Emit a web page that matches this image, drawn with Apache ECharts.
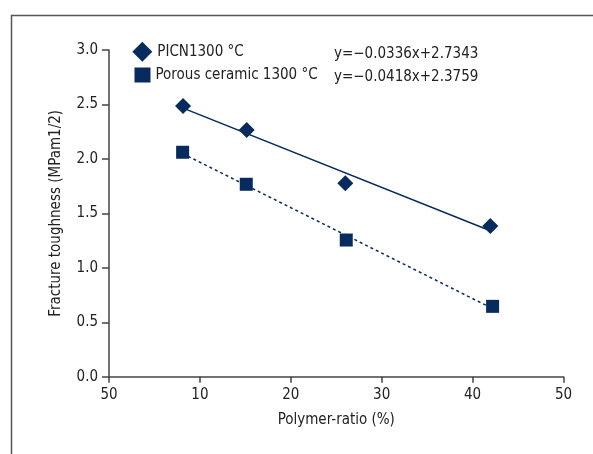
<!DOCTYPE html>
<html>
<head>
<meta charset="utf-8">
<script src="https://cdn.jsdelivr.net/npm/echarts@6/dist/echarts.min.js"></script>
<style>
html,body{margin:0;padding:0;background:#fff;}
#c{width:593px;height:454px;}
</style>
</head>
<body>
<div id="c"></div>
<script>
var seriesNames = ['PICN1300 °C', 'Porous ceramic 1300 °C'];
var xPICN = [8.15, 15.15, 26.0, 41.95];
var yPICN = [2.486, 2.265, 1.776, 1.384];
var xPorous = [8.1, 15.1, 26.1, 42.2];
var yPorous = [2.061, 1.767, 1.255, 0.646];
var equations = ['y=\u22120.0336x+2.7343', 'y=\u22120.0418x+2.3759'];
var xTickLabels = ['50', '10', '20', '30', '40', '50'];
var xName = 'Polymer-ratio (%)';
var yName = 'Fracture toughness (MPam1/2)';

var FONT = '"Liberation Sans Narrow", "DejaVu Sans Condensed", sans-serif';
var FS = 15;
var NAVY = '#062b5c';
var AXIS = '#444444';
var TXT = '#222222';

function pairs(xs, ys) { return xs.map(function (x, i) { return [x, ys[i]]; }); }
function fit(xs, ys) {
  var n = xs.length, mx = 0, my = 0, sxx = 0, sxy = 0;
  for (var i = 0; i < n; i++) { mx += xs[i]; my += ys[i]; }
  mx /= n; my /= n;
  for (var j = 0; j < n; j++) { sxx += (xs[j] - mx) * (xs[j] - mx); sxy += (xs[j] - mx) * (ys[j] - my); }
  var b = sxy / sxx, a = my - b * mx;
  var x0 = Math.min.apply(null, xs), x1 = Math.max.apply(null, xs);
  return [[x0, a + b * x0], [x1, a + b * x1]];
}

var chart = echarts.init(document.getElementById('c'), null, { renderer: 'canvas' });
chart.setOption({
  backgroundColor: '#ffffff',
  animation: false,
  textStyle: { fontFamily: FONT },
  grid: { left: 109, right: 29.5, top: 50, bottom: 77.3, containLabel: false },
  graphic: [
    { type: 'rect', left: 9, top: 13, silent: true,
      shape: { width: 620, height: 480 },
      style: { fill: 'none', stroke: '#555555', lineWidth: 1.5 } },
    { type: 'text', left: 334, top: 46.5, silent: true,
      style: { text: equations[0], font: FS + 'px ' + FONT, fill: TXT } },
    { type: 'text', left: 334, top: 69.5, silent: true,
      style: { text: equations[1], font: FS + 'px ' + FONT, fill: TXT } }
  ],
  legend: [
    {
      data: [{ name: seriesNames[0], icon: 'path://M0,-1L1,0L0,1L-1,0Z', itemStyle: { color: NAVY } }],
      left: 132.3, top: 41.7, padding: 0,
      itemWidth: 20, itemHeight: 20,
      textStyle: { fontFamily: FONT, fontSize: FS, color: TXT },
      selectedMode: false
    },
    {
      data: [{ name: seriesNames[1], icon: 'rect', itemStyle: { color: NAVY } }],
      left: 134.5, top: 67.5, padding: 0,
      itemWidth: 16, itemHeight: 15,
      textStyle: { fontFamily: FONT, fontSize: FS, color: TXT },
      selectedMode: false
    }
  ],
  xAxis: {
    type: 'value', min: 0, max: 50, interval: 10,
    name: xName, nameLocation: 'middle', nameGap: 36,
    nameTextStyle: { fontFamily: FONT, fontSize: FS, color: TXT },
    axisLine: { show: true, onZero: false, lineStyle: { color: AXIS, width: 1.5 } },
    axisTick: { show: true, inside: false, length: 6, lineStyle: { color: AXIS, width: 1.5 } },
    axisLabel: { margin: 11, fontFamily: FONT, fontSize: FS, color: TXT,
      formatter: function (v) { return xTickLabels[Math.round(v / 10)]; } },
    splitLine: { show: false }
  },
  yAxis: {
    type: 'value', min: 0, max: 3, interval: 0.5,
    name: yName, nameLocation: 'middle', nameGap: 45, nameRotate: 90,
    nameTextStyle: { fontFamily: FONT, fontSize: FS, color: TXT },
    axisLine: { show: true, onZero: false, lineStyle: { color: AXIS, width: 1.5 } },
    axisTick: { show: true, inside: false, length: 7, lineStyle: { color: AXIS, width: 1.5 } },
    axisLabel: { margin: 11, fontFamily: FONT, fontSize: FS, color: TXT,
      formatter: function (v) { return v.toFixed(1); } },
    splitLine: { show: false }
  },
  series: [
    { name: 'fitPICN', type: 'line', data: fit(xPICN, yPICN), symbol: 'none',
      lineStyle: { color: NAVY, width: 1.5, type: 'solid' }, z: 2, silent: true },
    { name: 'fitPorous', type: 'line', data: fit(xPorous, yPorous), symbol: 'none',
      lineStyle: { color: NAVY, width: 1.5, type: [3, 3] }, z: 2, silent: true },
    { name: seriesNames[0], type: 'scatter', data: pairs(xPICN, yPICN),
      symbol: 'diamond', symbolSize: 16, itemStyle: { color: NAVY, opacity: 1 }, z: 3 },
    { name: seriesNames[1], type: 'scatter', data: pairs(xPorous, yPorous),
      symbol: 'rect', symbolSize: 13, itemStyle: { color: NAVY, opacity: 1 }, z: 3 }
  ]
});
</script>
</body>
</html>
